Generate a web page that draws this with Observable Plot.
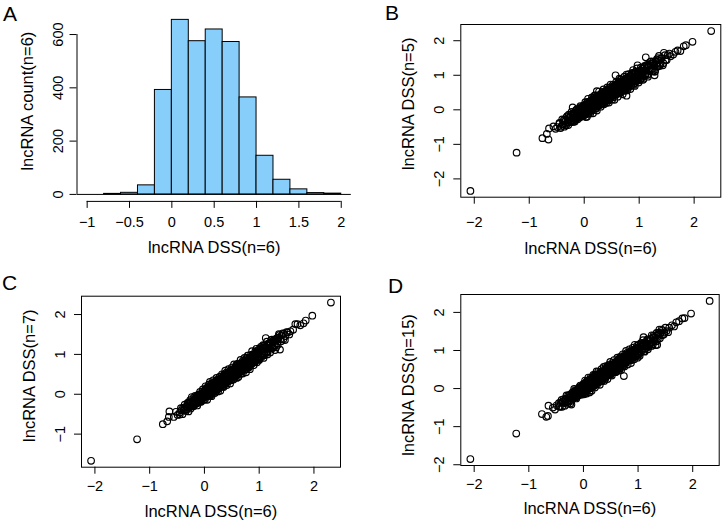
<!DOCTYPE html>
<html><head><meta charset="utf-8">
<script src="https://cdn.jsdelivr.net/npm/d3@7"></script>
<script src="https://cdn.jsdelivr.net/npm/@observablehq/plot@0.6"></script>
<style>
body{margin:0;background:#fff;}
#fig{position:relative;width:723px;height:531px;overflow:hidden;background:#fff;font-family:"Liberation Sans",Arial,Helvetica,sans-serif;color:#000;}
.panel{position:absolute;}
.letter{position:absolute;font-size:21px;line-height:1;}
</style></head><body><div id="fig"></div>
<script>
// ---------- DATA ----------
const panelLetters = ["A", "B", "C", "D"];
const xLabel = "lncRNA DSS(n=6)";
const yLabels = ["lncRNA count(n=6)", "lncRNA DSS(n=5)", "lncRNA DSS(n=7)", "lncRNA DSS(n=15)"];

// Panel A histogram
const histBinEdges = [-2.2,-2.0,-1.8,-1.6,-1.4,-1.2,-1.0,-0.8,-0.6,-0.4,-0.2,0,0.2,0.4,0.6,0.8,1.0,1.2,1.4,1.6,1.8,2.0,2.2,2.4];
const histCounts   = [1,0,0,0,1,0,0,2,6,34,392,655,575,619,572,364,145,55,19,5,3,0,1];
const histXTicks = [-1,-0.5,0,0.5,1,1.5,2];
const histYTicks = [0,200,400,600];

// Scatter: shared x = lncRNA DSS(n=6)
const dss6 = [
 -2.07,-1.23,2.31,
 -0.76,-0.68,-0.65,-0.64,
 -0.56,-0.52,-0.49,-0.45,-0.42,
 -0.38,-0.35,-0.33,-0.3,-0.27,-0.25,-0.22,-0.21,
 -0.19,-0.18,-0.17,-0.16,-0.15,-0.14,-0.13,-0.12,-0.11,-0.1,-0.09,-0.08,-0.07,-0.06,-0.05,-0.05,-0.04,-0.03,-0.02,-0.02,-0.01,0.0,
 0.0,0.01,0.01,0.02,0.03,0.03,0.04,0.05,0.05,0.06,0.07,0.07,0.08,0.09,0.09,0.1,0.1,0.11,0.12,0.12,0.13,0.13,0.14,0.15,0.15,0.16,0.16,0.17,0.17,0.18,0.18,0.19,0.19,0.2,
 0.2,0.21,0.22,0.22,0.23,0.24,0.24,0.25,0.26,0.26,0.27,0.28,0.28,0.29,0.3,0.3,0.31,0.32,0.32,0.33,0.34,0.34,0.35,0.36,0.36,0.37,0.38,0.38,0.39,0.4,
 0.4,0.41,0.41,0.42,0.43,0.43,0.44,0.45,0.45,0.46,0.47,0.47,0.48,0.49,0.49,0.5,0.5,0.51,0.52,0.52,0.53,0.54,0.54,0.55,0.56,0.56,0.57,0.57,0.58,0.58,0.59,0.6,
 0.6,0.61,0.62,0.62,0.63,0.64,0.64,0.65,0.66,0.66,0.67,0.68,0.68,0.69,0.7,0.7,0.71,0.72,0.72,0.73,0.74,0.74,0.75,0.76,0.76,0.77,0.78,0.78,0.79,0.8,
 0.8,0.81,0.82,0.83,0.84,0.85,0.86,0.86,0.87,0.88,0.89,0.9,0.91,0.92,0.93,0.94,0.95,0.96,0.97,0.97,0.98,0.99,
 1.0,1.02,1.04,1.05,1.07,1.09,1.1,1.12,1.13,1.15,1.17,1.19,
 1.21,1.23,1.26,1.28,1.3,1.33,1.35,1.38,
 1.41,1.44,1.45,1.48,1.52,1.57,
 1.62,1.66,1.7,1.75,
 1.81,1.85,1.97,
 -0.31,-0.29,-0.26,-0.24,-0.23,-0.2,-0.19,-0.17,-0.16,-0.14,-0.13,-0.11,-0.1,-0.08,-0.07,-0.06,-0.04,-0.03,-0.01,0.0,
 0.01,0.02,0.03,0.04,0.05,0.06,0.07,0.08,0.09,0.1,0.11,0.12,0.13,0.14,0.14,0.15,0.16,0.17,0.18,0.19,
 0.2,0.21,0.22,0.23,0.24,0.25,0.26,0.27,0.28,0.29,0.3,0.31,0.32,0.33,0.34,0.35,0.36,0.37,0.38,0.39,
 0.4,0.41,0.42,0.43,0.44,0.45,0.46,0.47,0.48,0.49,0.5,0.51,0.52,0.53,0.54,0.55,0.56,0.57,0.58,0.59,
 0.6,0.61,0.62,0.63,0.64,0.65,0.66,0.67,0.68,0.69,0.7,0.71,0.72,0.73,0.74,0.75,0.76,0.77,0.78,0.79,
 0.8,0.81,0.82,0.83,0.84,0.85,0.86,0.87,0.88,0.89,0.9,0.91,0.92,0.93,0.94,0.95,0.96,0.97,0.98,0.99,
 1.0,1.01,1.03,1.04,1.06,1.08,1.09,1.11,1.14,1.16,1.18,1.2,1.22,1.25,1.27,1.29,1.32,1.34,1.36,1.39,
 0.02,0.06,0.1,0.14,0.18,0.22,0.26,0.3,0.34,0.38,0.42,0.46,0.5,0.54,0.58,0.62,0.66,0.7,0.74,0.78,
 -0.12,-0.06,0.0,0.04,0.08,0.12,0.16,0.2,0.24,0.28,0.32,0.36,0.4,0.44,0.48,0.52,0.56,0.6,0.64,0.68,
 0.03,0.11,0.19,0.27,0.35,0.43,0.51,0.59,0.67,0.75,0.83,0.91,0.05,0.13,0.21,0.29,0.37,0.45,0.53,0.61,
 1.0,1.02,1.05,1.07,1.1,1.12,1.15,1.17,1.2,1.23,1.25,1.28,1.31,1.34,1.37,1.4,1.43,1.47,1.5,1.55,
 -0.45,-0.43,-0.4,-0.39,-0.37,-0.36,-0.34,-0.32,-0.3,-0.28,-0.27,-0.25,-0.24,-0.22,-0.2,-0.18,-0.15,-0.13,-0.09,-0.05
];
const dss5 = [
 -2.35,-1.24,2.28,
 -0.82,-0.70,-0.86,-0.54,
 -0.48,-0.55,-0.50,-0.38,-0.49,
 -0.42,-0.28,-0.45,-0.36,-0.22,-0.33,-0.30,0.07,
 -0.11,-0.30,-0.15,-0.21,-0.01,-0.23,-0.09,-0.27,-0.01,-0.12,-0.03,-0.19,0.08,-0.13,-0.05,0.06,-0.18,0.02,-0.08,0.10,-0.04,0.07,
 -0.09,0.14,-0.03,0.09,-0.13,0.05,0.14,-0.20,0.10,-0.05,0.23,0.04,0.17,-0.04,0.13,0.03,0.22,0.10,0.20,-0.03,0.16,0.27,0.08,0.25,0.03,0.17,0.33,0.09,0.23,0.04,0.29,0.17,0.26,0.10,
 0.32,0.11,0.27,0.05,0.54,0.20,0.33,0.12,0.41,0.26,0.19,0.39,0.13,0.35,0.43,0.24,0.33,0.20,0.48,0.30,0.42,0.18,0.45,0.29,0.50,0.36,0.43,0.27,0.51,0.31,
 0.48,0.27,0.44,0.57,0.36,0.53,0.33,0.50,0.27,0.59,0.45,0.54,0.35,0.66,0.44,0.52,0.40,0.63,0.36,0.58,0.67,0.46,0.55,0.66,0.44,0.64,1.00,0.53,0.73,0.49,0.63,0.46,
 0.71,0.55,0.78,0.49,0.67,0.55,0.76,0.63,0.74,0.51,0.81,0.68,0.57,0.78,0.65,0.87,0.63,0.75,0.56,0.83,0.71,0.87,0.63,0.82,0.69,0.41,0.93,0.68,0.84,0.66,
 0.89,0.69,0.96,0.78,0.90,0.69,0.97,0.83,1.04,0.79,0.91,0.76,1.03,0.96,0.83,1.09,0.89,1.04,1.29,0.85,1.08,0.95,
 0.92,1.14,0.91,1.12,1.03,1.24,1.00,1.52,1.18,1.01,1.28,1.13,
 1.33,1.12,1.36,1.00,1.41,1.25,1.44,1.30,
 1.50,1.35,1.65,1.44,1.58,1.55,
 1.60,1.68,1.72,1.70,
 1.84,1.87,1.97,
 -0.18,-0.44,-0.22,-0.32,-0.06,-0.24,-0.09,-0.34,-0.10,-0.26,0.02,-0.12,-0.02,-0.22,0.11,-0.12,-0.02,-0.13,0.12,-0.16,
 -0.13,0.22,-0.21,0.11,0.21,-0.04,0.32,-0.11,0.11,0.23,-0.11,0.22,0.08,0.36,-0.02,0.21,-0.10,0.34,0.10,0.42,
 0.41,0.03,0.33,-0.02,0.28,0.42,0.15,0.53,0.21,0.43,0.09,0.39,0.17,0.52,0.31,0.59,0.16,0.47,0.25,0.55,
 0.20,0.50,0.65,0.27,0.57,0.21,0.64,0.43,0.73,0.37,0.57,0.30,0.72,0.45,0.69,0.29,0.67,0.43,0.80,0.58,
 0.74,0.38,0.81,0.54,0.90,0.48,0.69,0.88,0.55,0.79,0.45,0.87,0.67,0.96,0.55,0.83,0.65,1.02,0.56,0.91,
 0.63,1.03,0.75,0.98,0.60,0.96,0.72,1.07,0.86,1.15,0.72,0.97,0.69,1.10,0.95,0.83,1.20,0.88,1.11,0.79,
 1.08,0.86,1.22,0.99,1.19,0.90,1.15,1.01,1.30,0.96,1.29,1.18,1.40,1.12,1.31,1.12,1.46,1.26,1.56,1.33,
 0.08,-0.02,0.22,0.10,0.27,0.11,0.28,0.44,0.28,0.48,0.29,0.50,0.41,0.66,0.56,0.70,0.54,0.75,0.67,0.89,
 -0.17,0.04,-0.12,0.11,0.05,0.25,0.07,0.24,0.10,0.37,0.32,0.26,0.52,0.38,0.56,0.41,0.59,0.74,0.56,0.73,
 0.12,-0.02,0.24,0.38,0.28,0.57,0.41,0.61,0.55,0.83,0.79,1.04,-0.06,0.19,0.19,0.39,0.23,0.52,0.53,0.52,
 1.12,0.87,1.11,0.87,1.27,1.04,1.25,1.04,1.39,1.18,1.39,1.10,1.35,1.50,1.27,1.49,1.29,1.58,1.44,1.63,
 -0.40,-0.53,-0.28,-0.43,-0.29,-0.49,-0.32,-0.21,-0.38,-0.14,-0.30,-0.16,-0.36,-0.16,-0.35,-0.08,-0.20,0.0,-0.18,-0.01
];
const dss7 = [
 -1.67,-1.13,2.30,
 -0.75,-0.68,-0.57,-0.43,
 -0.57,-0.44,-0.52,-0.46,-0.40,
 -0.40,-0.33,-0.38,-0.27,-0.31,-0.22,-0.25,-0.18,
 -0.23,-0.12,-0.25,-0.14,-0.06,-0.19,-0.10,-0.21,-0.04,-0.11,-0.04,-0.14,0.01,-0.09,-0.04,-0.12,0.0,0.07,-0.07,0.0,-0.09,0.06,
 0.04,-0.05,0.09,-0.01,0.08,-0.06,0.06,0.12,0.0,0.16,0.05,0.13,0.0,0.12,0.03,0.19,0.06,0.12,0.02,0.17,0.21,0.10,0.20,0.08,0.17,0.26,0.11,0.21,0.09,0.25,0.17,0.24,0.10,0.23,
 0.13,0.26,0.12,0.30,0.25,0.19,0.33,0.23,0.32,0.18,0.31,0.22,0.38,0.26,0.37,0.21,0.32,0.40,0.28,0.38,0.27,0.37,0.44,0.26,0.38,0.43,0.33,0.46,0.37,0.44,
 0.45,0.33,0.51,0.39,0.49,0.34,0.46,0.53,0.40,0.50,0.37,0.54,0.46,0.58,0.43,0.53,0.60,0.44,0.57,0.48,0.61,0.45,0.55,0.61,0.48,0.66,0.54,0.61,0.48,0.65,0.54,0.62,
 0.56,0.68,0.53,0.65,0.73,0.58,0.69,0.63,0.74,0.56,0.71,0.61,0.77,0.68,0.76,0.62,0.73,0.82,0.67,0.80,0.71,0.79,0.63,0.84,0.70,0.80,0.68,0.84,0.79,0.73,
 0.86,0.73,0.85,0.93,0.79,0.92,0.76,0.90,0.85,0.96,0.82,0.95,0.80,1.01,0.93,0.88,1.05,0.92,1.03,0.88,1.01,0.87,
 1.05,0.93,1.12,1.02,1.17,1.03,1.14,1.41,1.05,1.22,1.15,1.28,
 1.30,1.16,1.34,1.23,1.37,1.28,1.42,1.12,
 1.48,1.38,1.52,1.46,1.55,1.58,
 1.62,1.76,1.76,1.73,
 1.78,1.85,1.97,
 -0.23,-0.43,-0.15,-0.29,-0.07,-0.30,-0.17,-0.04,-0.24,-0.08,-0.28,-0.01,-0.13,0.06,-0.18,-0.01,-0.11,0.12,-0.14,0.07,
 -0.13,0.20,-0.03,0.16,-0.14,0.15,-0.04,0.24,0.07,0.31,-0.03,0.17,-0.05,0.28,0.15,0.05,0.35,0.10,0.28,0.03,
 0.28,0.06,0.41,0.18,0.37,0.07,0.32,0.17,0.44,0.09,0.41,0.29,0.50,0.20,0.38,0.18,0.50,0.29,0.59,0.33,
 0.54,0.23,0.46,0.33,0.63,0.40,0.58,0.27,0.55,0.35,0.67,0.49,0.62,0.37,0.75,0.48,0.58,0.45,0.73,0.41,
 0.49,0.77,0.43,0.69,0.77,0.57,0.86,0.52,0.70,0.79,0.52,0.79,0.68,0.91,0.61,0.80,0.55,0.91,0.72,0.97,
 0.97,0.67,0.91,0.63,0.87,0.99,0.77,1.08,0.82,1.00,0.73,0.97,0.80,1.08,0.92,1.14,0.80,1.05,0.88,1.12,
 0.86,1.07,1.19,0.93,1.15,0.91,1.22,1.08,1.32,1.08,1.23,1.05,1.36,1.19,1.37,1.11,1.40,1.24,1.51,1.38,
 -0.03,0.16,-0.02,0.21,0.15,0.35,0.17,0.34,0.20,0.47,0.42,0.36,0.62,0.48,0.66,0.51,0.69,0.84,0.66,0.83,
 -0.03,-0.19,0.05,0.15,0.01,0.26,0.06,0.22,0.12,0.36,0.28,0.49,0.29,0.50,0.46,0.62,0.42,0.67,0.64,0.59,
 0.09,0.03,0.31,0.23,0.44,0.32,0.53,0.73,0.61,0.85,0.70,0.95,-0.04,0.25,0.19,0.37,0.25,0.50,0.46,0.72,
 0.90,1.15,1.00,1.23,0.98,1.19,1.00,1.27,1.16,1.37,1.16,1.33,1.18,1.42,1.49,1.33,1.53,1.36,1.56,1.50,
 -0.51,-0.35,-0.50,-0.34,-0.40,-0.26,-0.42,-0.30,-0.21,-0.33,-0.20,-0.36,-0.20,-0.29,-0.09,-0.20,-0.07,-0.22,-0.03,-0.15
];
const dss15 = [
 -1.85,-1.18,2.30,
 -0.67,-0.74,-0.72,-0.45,
 -0.50,-0.55,-0.44,-0.47,-0.36,
 -0.35,-0.38,-0.29,-0.34,-0.24,-0.30,-0.42,-0.19,
 -0.14,-0.25,-0.08,-0.18,-0.23,-0.10,-0.23,-0.05,-0.15,-0.02,-0.15,-0.06,-0.16,0.0,-0.08,0.05,-0.09,-0.04,0.05,-0.10,0.02,-0.11,
 -0.05,0.09,-0.01,0.08,-0.06,0.06,-0.02,0.15,0.06,-0.01,0.12,-0.03,0.15,0.06,0.18,0.05,0.12,-0.10,0.18,0.11,0.23,0.07,0.18,0.06,0.22,0.14,0.21,0.10,0.26,0.18,0.14,0.27,0.09,0.26,
 0.27,0.17,0.31,0.14,0.26,0.14,0.29,0.26,0.20,0.34,0.25,0.38,0.21,0.33,0.21,0.36,0.28,0.41,0.27,0.35,0.41,0.26,0.35,0.41,0.30,0.47,0.34,0.41,0.30,0.46,
 0.34,0.50,0.38,0.49,0.33,0.47,0.52,0.40,0.47,0.37,0.53,0.46,0.58,0.42,0.52,0.46,0.58,0.51,0.44,0.57,0.51,0.63,0.48,0.58,0.63,0.46,0.61,0.54,0.66,0.53,0.69,0.53,
 0.64,0.54,0.72,0.59,0.69,0.55,0.66,0.73,0.61,0.69,0.57,0.75,0.66,0.78,0.64,0.71,0.76,0.64,0.82,0.69,0.33,0.80,0.68,0.79,0.85,0.72,0.80,0.69,0.86,0.77,
 0.74,0.89,0.78,0.93,0.76,0.88,0.93,0.76,0.92,0.86,0.98,0.83,0.95,0.83,1.01,0.91,1.01,0.86,0.99,1.06,0.93,1.06,
 1.07,0.97,1.14,0.96,1.10,1.15,1.35,1.05,1.21,1.11,1.26,1.09,
 1.14,1.30,1.21,1.35,1.26,1.39,1.15,1.42,
 1.46,1.40,1.53,1.47,1.51,1.60,
 1.66,1.63,1.74,1.77,
 1.84,1.85,1.97,
 -0.18,-0.40,-0.19,-0.39,-0.21,-0.10,-0.26,-0.01,-0.20,-0.06,-0.26,-0.06,-0.19,0.03,-0.09,0.08,-0.16,0.03,-0.09,0.10,
 -0.15,0.09,0.21,-0.09,0.15,-0.13,0.21,0.05,0.29,0.0,0.17,-0.05,0.29,0.08,0.26,-0.06,0.25,0.06,0.36,0.18,
 0.31,0.03,0.37,0.16,0.45,0.11,0.28,0.44,0.18,0.37,0.10,0.44,0.28,0.51,0.19,0.41,0.27,0.57,0.20,0.49,
 0.26,0.59,0.36,0.55,0.25,0.54,0.35,0.63,0.46,0.70,0.36,0.56,0.34,0.67,0.55,0.45,0.75,0.50,0.68,0.43,
 0.68,0.46,0.81,0.58,0.77,0.47,0.72,0.57,0.84,0.49,0.81,0.69,0.90,0.60,0.78,0.58,0.90,0.69,0.99,0.73,
 0.94,0.63,0.86,0.73,1.03,0.80,0.98,0.67,0.95,0.75,1.07,0.89,1.02,0.77,1.15,0.88,0.98,0.85,1.13,0.81,
 0.90,1.15,0.86,1.09,1.17,1.01,1.27,0.98,1.15,1.25,1.03,1.27,1.18,1.40,1.16,1.33,1.14,1.46,1.30,1.55,
 0.11,-0.07,0.15,0.25,0.11,0.36,0.16,0.32,0.22,0.46,0.38,0.59,0.39,0.60,0.56,0.72,0.52,0.77,0.74,0.69,
 -0.06,-0.14,0.12,0.0,0.17,0.01,0.18,0.34,0.18,0.38,0.19,0.40,0.31,0.56,0.46,0.60,0.44,0.65,0.57,0.79,
 -0.02,0.21,0.07,0.34,0.32,0.56,0.42,0.63,0.53,0.84,0.83,0.81,0.17,0.07,0.29,0.18,0.40,0.59,0.45,0.66,
 1.08,0.90,1.19,1.01,1.20,0.97,1.20,1.29,1.11,1.30,1.12,1.39,1.27,1.24,1.46,1.32,1.55,1.42,1.60,1.48,
 -0.38,-0.48,-0.30,-0.48,-0.34,-0.28,-0.45,-0.27,-0.34,-0.18,-0.35,-0.23,-0.15,-0.32,-0.16,-0.24,-0.04,-0.16,-0.02,-0.14
];
const scatterTicks = [-2,-1,0,1,2];
const scatterYTicksC = [-1,0,1,2];

// ---------- RENDER ----------
const FONT = '"Liberation Sans", Arial, Helvetica, sans-serif';
const TICK_FS = 14.5, LAB_FS = 16.5;
const fmt = d => (d < 0 ? "\u2212" + Math.abs(d) : String(d));
const fig = document.getElementById("fig");

function place(svg, left, top) {
  const div = document.createElement("div");
  div.className = "panel";
  div.style.left = left + "px";
  div.style.top = top + "px";
  div.appendChild(svg);
  fig.appendChild(div);
}
function letter(t, left, top) {
  const d = document.createElement("div");
  d.className = "letter";
  d.style.left = left + "px";
  d.style.top = top + "px";
  d.textContent = t;
  fig.appendChild(d);
}
const baseStyle = {fontFamily: FONT, background: "white", color: "black", overflow: "visible"};

// Panel A
{
  const bins = histCounts.map((c, i) => ({x1: histBinEdges[i], x2: histBinEdges[i + 1], count: c}));
  const xDom = [-1.12, 2.12], yDom = [-26.2, 681.2];
  const svg = Plot.plot({
    width: 361, height: 265,
    marginLeft: 76.5, marginRight: 10.1, marginTop: 12.4, marginBottom: 64.1,
    style: baseStyle,
    x: {domain: xDom, axis: null},
    y: {domain: yDom, axis: null},
    marks: [
      Plot.ruleY([0], {stroke: "black", clip: true}),
      Plot.rectY(bins.filter(b => b.count > 0), {x1: "x1", x2: "x2", y: "count", fill: "#87CEFA", stroke: "black", strokeWidth: 1, clip: true}),
      Plot.ruleY([yDom[0]], {x1: () => histXTicks[0], x2: () => histXTicks[histXTicks.length - 1], stroke: "black"}),
      Plot.ruleX([xDom[0]], {y1: () => histYTicks[0], y2: () => histYTicks[histYTicks.length - 1], stroke: "black"}),
      Plot.axisX({ticks: histXTicks, tickSize: 7, tickPadding: 8, fontSize: TICK_FS, tickFormat: fmt, label: null}),
      Plot.axisY({ticks: histYTicks, tickSize: 7, tickFormat: () => "", label: null}),
      Plot.text(histYTicks, {y: d => d, frameAnchor: "left", textAnchor: "middle", text: fmt, rotate: -90, dx: -19, fontSize: TICK_FS}),
      Plot.text([xLabel], {frameAnchor: "bottom", textAnchor: "middle", text: d => d, dy: 52, fontSize: LAB_FS}),
      Plot.text([yLabels[0]], {frameAnchor: "left", textAnchor: "middle", text: d => d, rotate: -90, dx: -49, dy: -6, fontSize: LAB_FS})
    ]
  });
  place(svg, 0, 0);
}

function scatter(yvals, yLabel, yTicks, cfg) {
  const pts = dss6.map((x, i) => ({x, y: yvals[i]})).filter(p => p.y != null);
  return Plot.plot({
    width: cfg.w, height: cfg.h,
    marginLeft: cfg.ml, marginRight: cfg.mr, marginTop: cfg.mt, marginBottom: cfg.mb,
    style: baseStyle,
    x: {domain: cfg.xd, axis: null},
    y: {domain: cfg.yd, axis: null},
    marks: [
      Plot.frame({stroke: "black"}),
      Plot.dot(pts, {x: "x", y: "y", r: 3.3, stroke: "black", strokeWidth: 1.15, fill: "none"}),
      Plot.axisX({ticks: scatterTicks, tickSize: 7, tickPadding: cfg.pad, fontSize: TICK_FS, tickFormat: fmt, label: null}),
      Plot.axisY({ticks: yTicks, tickSize: 7, tickFormat: () => "", label: null}),
      Plot.text(yTicks, {y: d => d, frameAnchor: "left", textAnchor: "middle", text: fmt, rotate: -90, dx: -21, fontSize: TICK_FS}),
      Plot.text([xLabel], {frameAnchor: "bottom", textAnchor: "middle", text: d => d, dy: cfg.tdy, fontSize: LAB_FS}),
      Plot.text([yLabel], {frameAnchor: "left", textAnchor: "middle", text: d => d, rotate: -90, dx: -52, dy: cfg.ydy, fontSize: LAB_FS})
    ]
  });
}

place(scatter(dss5, yLabels[1], scatterTicks,
  {w: 362, h: 265, ml: 99.3, mr: 2.7, mt: 24, mb: 68.3, xd: [-2.245, 2.485], yd: [-2.53, 2.47], pad: 13, tdy: 56.5, ydy: -7}), 361, 0);
place(scatter(dss7, yLabels[2], scatterYTicksC,
  {w: 361, h: 266, ml: 81, mr: 21, mt: 30.7, mb: 64.3, xd: [-2.245, 2.485], yd: [-1.83, 2.46], pad: 7, tdy: 50, ydy: -6}), 0, 265);
place(scatter(dss15, yLabels[3], scatterTicks,
  {w: 362, h: 266, ml: 99.3, mr: 4.3, mt: 29, mb: 66, xd: [-2.245, 2.485], yd: [-2.02, 2.47], pad: 6, tdy: 48.5, ydy: 5}), 361, 265);

letter(panelLetters[0], 3, 3);
letter(panelLetters[1], 385, 2);
letter(panelLetters[2], 2, 272);
letter(panelLetters[3], 388, 275);
</script>
</body></html>
